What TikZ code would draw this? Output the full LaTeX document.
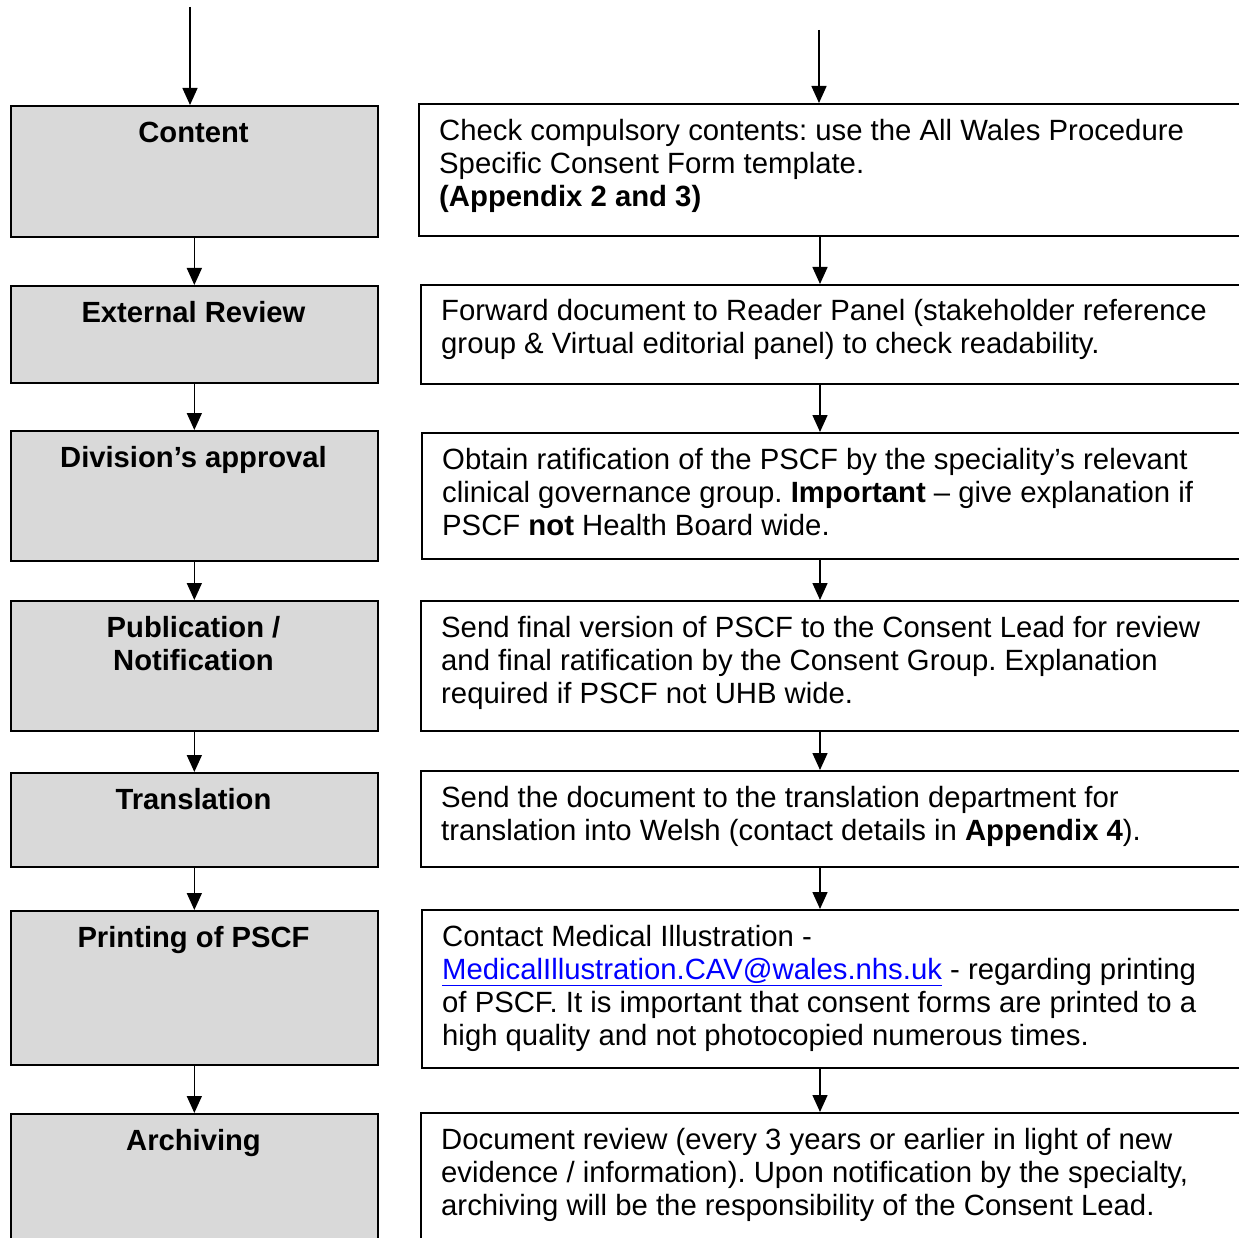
\documentclass[tikz,border=0pt]{standalone}
\usepackage{fontspec}
\setmainfont{Liberation Sans}
\usetikzlibrary{arrows.meta}
\definecolor{boxgray}{RGB}{217,217,217}
\definecolor{linkblue}{RGB}{0,0,255}
\newcommand\maillink[1]{\textcolor{linkblue}{\underline{#1}}}
\frenchspacing
\begin{document}
\begin{tikzpicture}[x=1pt,y=-1pt,
  lbox/.style={draw, line width=1.7pt, fill=boxgray, anchor=north west, minimum width=367pt, inner sep=0pt},
  rbox/.style={draw, line width=1.7pt, fill=white, anchor=north west, minimum width=850pt, inner sep=0pt},
  ltext/.style={anchor=north, align=center, inner sep=0pt, font=\fontsize{29.2}{33}\selectfont\bfseries},
  rtext/.style={anchor=north west, align=left, inner sep=0pt, font=\fontsize{29.3}{33}\selectfont},
  arr/.style={-{Triangle[width=15pt,length=17pt]}, line width=1.5pt}]
\useasboundingbox (0,0) rectangle (1239,1238);
\clip (0,0) rectangle (1239,1238);

% left boxes
\node[lbox, minimum height=131pt] (l1) at (10,105) {};
\node[lbox, minimum height=97pt]  (l2) at (10,285) {};
\node[lbox, minimum height=130pt] (l3) at (10,430) {};
\node[lbox, minimum height=130pt] (l4) at (10,600) {};
\node[lbox, minimum height=94pt]  (l5) at (10,772) {};
\node[lbox, minimum height=154pt] (l6) at (10,910) {};
\node[lbox, minimum height=190pt] (l7) at (10,1113) {};

\node[ltext] (t1) at (193.5,119) {\strut Content};
\node[ltext] (t2) at (193.5,299) {\strut External Review};
\node[ltext] (t3) at (193.5,444) {\strut Division’s approval};
\node[ltext] (t4) at (193.5,614) {\strut Publication /\\ Notification};
\node[ltext] (t5) at (193.5,786) {\strut Translation};
\node[ltext] (t6) at (193.5,924) {\strut Printing of PSCF};
\node[ltext] (t7) at (193.5,1127) {\strut Archiving};

% right boxes
\node[rbox, minimum height=132pt] (r1) at (418,103) {};
\node[rbox, minimum height=99pt]  (r2) at (420,284) {};
\node[rbox, minimum height=126pt] (r3) at (421,432) {};
\node[rbox, minimum height=130pt] (r4) at (420,600) {};
\node[rbox, minimum height=96pt]  (r5) at (420,770) {};
\node[rbox, minimum height=158pt] (r6) at (421,909) {};
\node[rbox, minimum height=190pt] (r7) at (420,1112) {};

\node[rtext] (u1) at (439,117) {\strut Check compulsory contents: use the All Wales Procedure\\ Specific Consent Form template.\\ \textbf{(Appendix 2 and 3)}};
\node[rtext] (u2) at (441,297) {\strut Forward document to Reader Panel (stakeholder reference\\ group \& Virtual editorial panel) to check readability.};
\node[rtext] (u3) at (442,446) {\strut Obtain ratification of the PSCF by the speciality’s relevant\\ clinical governance group. \textbf{Important} – give explanation if\\ PSCF \textbf{not} Health Board wide.};
\node[rtext] (u4) at (441,614) {\strut Send final version of PSCF to the Consent Lead for review\\ and final ratification by the Consent Group. Explanation\\ required if PSCF not UHB wide.};
\node[rtext] (u5) at (441,784) {\strut Send the document to the translation department for\\ translation into Welsh (contact details in \textbf{Appendix 4}).};
\node[rtext] (u6) at (442,923) {\strut Contact Medical Illustration -\\ \maillink{MedicalIllustration.CAV@wales.nhs.uk} - regarding printing\\ of PSCF. It is important that consent forms are printed to a\\ high quality and not photocopied numerous times.};
\node[rtext] (u7) at (441,1126) {\strut Document review (every 3 years or earlier in light of new\\ evidence / information). Upon notification by the specialty,\\ archiving will be the responsibility of the Consent Lead.};

% arrows
\coordinate (s1) at (190,7);
\coordinate (s2) at (819,30);
\coordinate (rx) at (820,0);
\draw[arr] (s1) -- (s1 |- l1.north);
\draw[arr] (s2) -- (s2 |- r1.north);
\draw[arr] (l1.south) -- (l2.north);
\draw[arr] (l2.south) -- (l3.north);
\draw[arr] (l3.south) -- (l4.north);
\draw[arr] (l4.south) -- (l5.north);
\draw[arr] (l5.south) -- (l6.north);
\draw[arr] (l6.south) -- (l7.north);
\draw[arr] (r1.south -| rx) -- (r2.north -| rx);
\draw[arr] (r2.south -| rx) -- (r3.north -| rx);
\draw[arr] (r3.south -| rx) -- (r4.north -| rx);
\draw[arr] (r4.south -| rx) -- (r5.north -| rx);
\draw[arr] (r5.south -| rx) -- (r6.north -| rx);
\draw[arr] (r6.south -| rx) -- (r7.north -| rx);
\end{tikzpicture}
\end{document}
